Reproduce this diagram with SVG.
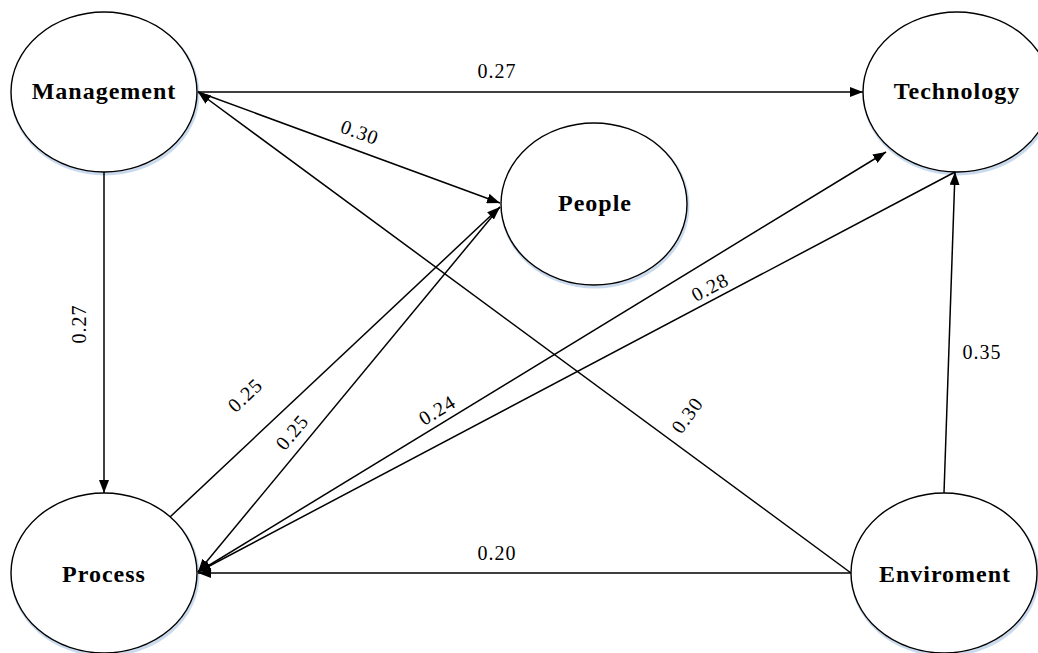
<svg xmlns="http://www.w3.org/2000/svg" width="1038" height="653" viewBox="0 0 1038 653">
<style>
.node{fill:#fff;stroke:#000;stroke-width:1.4}
.shadow{fill:none;stroke:#c9d9ee;stroke-width:3}
.nlabel{font-family:"Liberation Serif",serif;font-weight:bold;font-size:24px;letter-spacing:1px;text-anchor:middle;fill:#000}
.elabel{font-family:"Liberation Serif",serif;font-size:20px;letter-spacing:1px;text-anchor:middle;fill:#000}
.edge{stroke:#000;stroke-width:1.5;fill:none;marker-end:url(#arr)}
</style>
<defs>
<marker id="arr" markerUnits="userSpaceOnUse" markerWidth="14" markerHeight="10" refX="13" refY="5" orient="auto">
<path d="M0,0 L13,5 L0,10 z" fill="#000"/>
</marker>
</defs>
<rect width="1038" height="653" fill="#fff"/>
<g id="management">
<ellipse class="shadow" cx="105" cy="94" rx="93" ry="80"/>
<ellipse class="node" cx="104" cy="92" rx="93" ry="80"/>
<text class="nlabel" x="104" y="99">Management</text>
</g>
<g id="technology">
<ellipse class="shadow" cx="958" cy="94" rx="94" ry="80"/>
<ellipse class="node" cx="957" cy="92" rx="94" ry="80"/>
<text class="nlabel" x="957" y="99">Technology</text>
</g>
<g id="people">
<ellipse class="shadow" cx="595" cy="206" rx="93" ry="81"/>
<ellipse class="node" cx="594" cy="204" rx="93" ry="81"/>
<text class="nlabel" x="595" y="211">People</text>
</g>
<g id="process">
<ellipse class="shadow" cx="105" cy="575" rx="93" ry="80"/>
<ellipse class="node" cx="104" cy="573" rx="93" ry="80"/>
<text class="nlabel" x="104" y="582">Process</text>
</g>
<g id="enviroment">
<ellipse class="shadow" cx="945" cy="575" rx="93" ry="80"/>
<ellipse class="node" cx="944" cy="573" rx="93" ry="80"/>
<text class="nlabel" x="945" y="582">Enviroment</text>
</g>
<g id="connectors">
<line class="edge" x1="198" y1="92" x2="863" y2="92"/>
<line class="edge" x1="198" y1="92" x2="500" y2="203"/>
<line class="edge" x1="104" y1="172" x2="104" y2="493"/>
<line class="edge" x1="170" y1="517" x2="500" y2="207"/>
<line class="edge" x1="500" y1="207" x2="198" y2="572"/>
<line class="edge" x1="198" y1="572" x2="886" y2="152"/>
<line class="edge" x1="955" y1="172" x2="198" y2="572"/>
<line class="edge" x1="851" y1="573" x2="198" y2="92"/>
<line class="edge" x1="944" y1="493" x2="955" y2="172"/>
<line class="edge" x1="851" y1="573" x2="198" y2="573"/>
<text class="elabel" x="497" y="78">0.27</text>
<text class="elabel" transform="translate(360,132) rotate(20)" x="0" y="7">0.30</text>
<text class="elabel" transform="translate(79,324) rotate(-90)" x="0" y="7">0.27</text>
<text class="elabel" transform="translate(245,395) rotate(-43)" x="0" y="7">0.25</text>
<text class="elabel" transform="translate(292,432) rotate(-50)" x="0" y="7">0.25</text>
<text class="elabel" transform="translate(437,410) rotate(-31)" x="0" y="7">0.24</text>
<text class="elabel" transform="translate(710,287) rotate(-28)" x="0" y="7">0.28</text>
<text class="elabel" transform="translate(687,415) rotate(-54)" x="0" y="7">0.30</text>
<text class="elabel" x="982" y="359">0.35</text>
<text class="elabel" x="497" y="560">0.20</text>
</g>
</svg>
